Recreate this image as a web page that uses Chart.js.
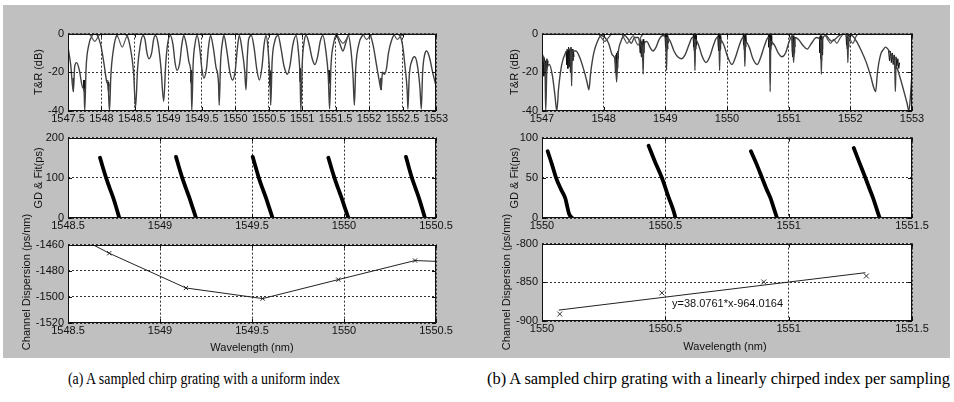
<!DOCTYPE html>
<html><head><meta charset="utf-8">
<script src="https://cdn.jsdelivr.net/npm/chart.js@4.4.1/dist/chart.umd.min.js"></script>
<style>
html,body{margin:0;padding:0;background:#fff}
body{width:954px;height:402px;position:relative;overflow:hidden;font-family:"Liberation Sans",Arial,sans-serif;color:#111}
#bg{position:absolute;left:3px;top:5px;width:947px;height:353px;background:#c0c0c0}
canvas{position:absolute}
.yt{position:absolute;font-size:11px;white-space:nowrap;transform:translate(-50%,-50%) rotate(-90deg)}
.xt{position:absolute;font-size:11px;white-space:nowrap;transform:translate(-50%,-50%)}
.ann{position:absolute;font-size:11px;white-space:nowrap;transform:translate(0,-50%)}
.cap{position:absolute;font-family:"Liberation Serif","Times New Roman",serif;font-size:16px;white-space:nowrap;transform-origin:0 50%;color:#000}
</style></head><body>
<div id="bg"></div>
<canvas id="tl"></canvas><canvas id="ml"></canvas><canvas id="bl"></canvas>
<canvas id="tr"></canvas><canvas id="mr"></canvas><canvas id="br"></canvas>
<div class="yt" style="left:38px;top:72px">T&amp;R (dB)</div>
<div class="yt" style="left:38px;top:178px">GD &amp; Fit(ps)</div>
<div class="yt" style="left:26px;top:282px">Channel Dispersion (ps/nm)</div>
<div class="xt" style="left:252px;top:347px">Wavelength (nm)</div>
<div class="yt" style="left:514px;top:72px">T&amp;R (dB)</div>
<div class="yt" style="left:514px;top:178px">GD &amp; Fit(ps)</div>
<div class="yt" style="left:506px;top:282px">Channel Dispersion (ps/nm)</div>
<div class="xt" style="left:725px;top:346px">Wavelength (nm)</div>
<div class="ann" style="left:672px;top:303px">y=38.0761*x-964.0164</div>
<div class="cap" data-w="272" style="left:68px;top:370px">(a) A sampled chirp grating with a uniform index</div>
<div class="cap" data-w="463" style="left:487px;top:370px">(b) A sampled chirp grating with a linearly chirped index per sampling</div>
<script>
// ---------- tick labels ----------
const tlTicksX=[1547.5,1548,1548.5,1549,1549.5,1550,1550.5,1551,1551.5,1552,1552.5,1553];
const trTicksX=[1547,1548,1549,1550,1551,1552,1553];
const trTicksY=[-40,-20,0];
const aTicksX=[1548.5,1549,1549.5,1550,1550.5];
const bTicksX=[1550,1550.5,1551,1551.5];
const gdATicksY=[0,100,200];
const gdBTicksY=[0,50,100];
const cdATicksY=[-1520,-1500,-1480,-1460];
const cdBTicksY=[-900,-850,-800];

// ---------- (a) T&R spectrum: [wavelength nm, dB] ----------
const tlR=[[1547.50,-7],[1547.54,-16],[1547.58,-30],[1547.60,-17],[1547.63,-15],[1547.67,-19],[1547.72,-28],[1547.74,-29],[1547.75,-40],[1547.77,-18],[1547.81,-6],[1547.86,-1],[1547.90,0],[1547.94,-1],[1547.99,-6],[1548.04,-16],[1548.08,-25],[1548.10,-27],[1548.12,-40],[1548.14,-22],[1548.18,-8],[1548.23,-1],[1548.31,0],[1548.38,-1],[1548.43,-7],[1548.48,-20],[1548.51,-38],[1548.54,-18],[1548.58,-6],[1548.62,-1],[1548.65,-3],[1548.68,-10],[1548.71,-13],[1548.75,-10],[1548.78,-3],[1548.81,-1],[1548.85,-6],[1548.89,-18],[1548.93,-35],[1548.96,-16],[1548.99,-5],[1549.03,-1],[1549.07,-6],[1549.10,-15],[1549.13,-19],[1549.17,-15],[1549.20,-6],[1549.23,-1],[1549.27,-6],[1549.31,-15],[1549.34,-22],[1549.35,-40],[1549.37,-16],[1549.40,-5],[1549.43,-1],[1549.47,-8],[1549.50,-18],[1549.53,-23],[1549.57,-18],[1549.60,-7],[1549.63,-1],[1549.67,-7],[1549.71,-17],[1549.75,-26],[1549.76,-37],[1549.78,-15],[1549.81,-4],[1549.83,-1],[1549.87,-8],[1549.92,-20],[1549.96,-24],[1550.00,-19],[1550.03,-8],[1550.06,-1],[1550.10,-8],[1550.14,-19],[1550.16,-29],[1550.18,-12],[1550.20,-3],[1550.24,-1],[1550.28,-7],[1550.32,-18],[1550.36,-24],[1550.40,-17],[1550.43,-6],[1550.46,-1],[1550.49,-8],[1550.52,-25],[1550.53,-37],[1550.55,-15],[1550.59,-4],[1550.64,-1],[1550.68,-7],[1550.73,-17],[1550.78,-21],[1550.82,-16],[1550.86,-6],[1550.91,-1],[1550.94,-8],[1550.97,-24],[1550.98,-40],[1551.00,-16],[1551.03,-4],[1551.06,-1],[1551.10,-5],[1551.15,-13],[1551.19,-16],[1551.23,-12],[1551.27,-4],[1551.31,-1],[1551.35,-8],[1551.39,-22],[1551.41,-39],[1551.43,-17],[1551.47,-5],[1551.51,-1],[1551.56,-5],[1551.61,-9],[1551.65,-5],[1551.69,-1],[1551.73,-9],[1551.76,-22],[1551.78,-37],[1551.80,-18],[1551.85,-5],[1551.90,-1],[1551.96,0],[1552.02,-1],[1552.06,-6],[1552.11,-16],[1552.15,-24],[1552.18,-29],[1552.20,-20],[1552.23,-21],[1552.26,-18],[1552.29,-10],[1552.34,-3],[1552.40,0],[1552.46,-1],[1552.50,-6],[1552.54,-18],[1552.57,-30],[1552.58,-39],[1552.60,-22],[1552.64,-14],[1552.68,-12],[1552.72,-16],[1552.76,-28],[1552.78,-39],[1552.80,-20],[1552.83,-11],[1552.86,-9],[1552.90,-12],[1552.95,-20],[1553.00,-27]];
const tlT=[[1547.50,0],[1547.80,0],[1547.84,-1],[1547.90,-4],[1547.96,-1],[1548.00,0],[1548.20,0],[1548.25,-2],[1548.31,-7],[1548.37,-2],[1548.42,0],[1551.50,0],[1551.56,-3],[1551.61,-5],[1551.66,-3],[1551.72,0],[1551.90,0],[1551.96,-3],[1552.02,-1],[1552.08,0],[1552.36,0],[1552.42,-3],[1552.48,-1],[1552.55,0],[1553.00,0]];
// dense ripple bursts near the nulls of (a)
const tlBurst=[
 [[1547.575,-23],[1547.578,-30],[1547.581,-23],[1547.584,-29]],
 [[1547.735,-24],[1547.738,-29],[1547.741,-24],[1547.744,-30]],
 [[1548.095,-24],[1548.100,-29],[1548.105,-25],[1548.110,-30],[1548.115,-26]],
 [[1549.335,-19],[1549.338,-25],[1549.341,-19],[1549.344,-26]],
 [[1550.515,-19],[1550.518,-27],[1550.521,-20],[1550.524,-26]],
 [[1550.965,-18],[1550.968,-25],[1550.971,-18],[1550.974,-24]],
 [[1551.395,-19],[1551.398,-26],[1551.401,-19],[1551.404,-25]],
 [[1552.175,-23],[1552.178,-29],[1552.181,-23],[1552.184,-28]]];

// ---------- (b) T&R spectrum ----------
const trR=[[1547.00,-10],[1547.03,-14],[1547.05,-20],[1547.06,-40],[1547.08,-18],[1547.12,-16],[1547.17,-22],[1547.21,-32],[1547.24,-40],[1547.27,-28],[1547.32,-16],[1547.38,-10],[1547.44,-8],[1547.47,-8],[1547.48,-27],[1547.49,-9],[1547.55,-9],[1547.62,-13],[1547.68,-19],[1547.73,-25],[1547.76,-29],[1547.79,-20],[1547.84,-10],[1547.90,-4],[1547.96,-1],[1548.02,-2],[1548.08,-5],[1548.14,-11],[1548.19,-14],[1548.21,-25],[1548.23,-12],[1548.28,-4],[1548.34,-1],[1548.40,-3],[1548.45,-5],[1548.50,-2],[1548.56,-2],[1548.60,-6],[1548.63,-8],[1548.64,-21],[1548.65,-6],[1548.70,-4],[1548.75,-7],[1548.80,-9],[1548.85,-7],[1548.90,-3],[1548.96,-1],[1549.01,-2],[1549.02,-19],[1549.03,-2],[1549.08,-4],[1549.14,-9],[1549.20,-12],[1549.26,-13],[1549.32,-11],[1549.38,-6],[1549.44,-2],[1549.47,-3],[1549.48,-19],[1549.49,-3],[1549.54,-6],[1549.60,-12],[1549.66,-15],[1549.72,-12],[1549.78,-6],[1549.84,-2],[1549.87,-3],[1549.88,-19],[1549.89,-3],[1549.95,-6],[1550.01,-12],[1550.08,-16],[1550.14,-12],[1550.20,-6],[1550.26,-2],[1550.28,-4],[1550.29,-17],[1550.30,-4],[1550.36,-7],[1550.42,-13],[1550.49,-16],[1550.55,-12],[1550.61,-6],[1550.67,-2],[1550.69,-4],[1550.70,-30],[1550.71,-4],[1550.77,-6],[1550.83,-10],[1550.89,-12],[1550.95,-10],[1551.01,-4],[1551.06,-1],[1551.08,-15],[1551.10,-2],[1551.16,-3],[1551.23,-6],[1551.30,-8],[1551.37,-5],[1551.45,-2],[1551.52,-4],[1551.53,-21],[1551.54,-4],[1551.60,-1],[1551.66,-3],[1551.70,-4],[1551.75,-3],[1551.82,-1],[1551.90,0],[1551.95,-3],[1551.96,-15],[1551.97,-2],[1552.02,-1],[1552.10,-4],[1552.18,-9],[1552.26,-15],[1552.33,-22],[1552.38,-28],[1552.41,-30],[1552.44,-20],[1552.49,-11],[1552.54,-8],[1552.57,-7],[1552.61,-8],[1552.67,-11],[1552.72,-16],[1552.73,-30],[1552.74,-17],[1552.80,-22],[1552.87,-30],[1552.92,-36],[1552.95,-40],[1552.98,-30],[1553.00,-20]];
const trT=[[1547.00,0],[1547.90,0],[1547.96,-2],[1548.02,-4],[1548.08,-2],[1548.14,0],[1548.28,0],[1548.34,-3],[1548.38,-5],[1548.43,-3],[1548.48,-1],[1548.52,-4],[1548.56,-6],[1548.60,-2],[1548.66,0],[1551.58,0],[1551.63,-3],[1551.68,-5],[1551.73,-3],[1551.78,-5],[1551.84,-2],[1551.90,0],[1551.98,-2],[1552.04,-5],[1552.10,-1],[1552.16,0],[1553.00,0]];
// dense ripple bursts of (b)
const trBurst=[
 [[1547.00,-11],[1547.01,-20],[1547.02,-12],[1547.03,-22],[1547.04,-13],[1547.05,-21],[1547.06,-14],[1547.07,-19],[1547.08,-13],[1547.09,-17],[1547.10,-14]],
 [[1547.39,-9],[1547.40,-16],[1547.41,-8],[1547.42,-18],[1547.43,-7],[1547.44,-17],[1547.45,-8],[1547.46,-20],[1547.47,-7],[1547.48,-16],[1547.49,-8],[1547.50,-14],[1547.51,-9],[1547.52,-12]],
 [[1548.18,-12],[1548.19,-20],[1548.20,-11],[1548.205,-22],[1548.21,-10],[1548.22,-18],[1548.23,-9],[1548.24,-13]],
 [[1548.58,-4],[1548.59,-10],[1548.60,-3],[1548.61,-12],[1548.62,-4],[1548.63,-14],[1548.64,-3],[1548.65,-10],[1548.66,-4]],
 [[1548.995,-1],[1549.000,-7],[1549.006,-1],[1549.012,-9],[1549.018,0],[1549.024,-9],[1549.030,-1],[1549.036,-8],[1549.042,-1],[1549.050,-5]],
 [[1549.450,-1],[1549.456,-7],[1549.462,0],[1549.468,-9],[1549.474,-1],[1549.480,-9],[1549.486,0],[1549.492,-8],[1549.498,-1],[1549.505,-6]],
 [[1549.850,-1],[1549.856,-6],[1549.862,0],[1549.868,-9],[1549.874,-1],[1549.880,-9],[1549.886,0],[1549.892,-8],[1549.898,-1],[1549.905,-5]],
 [[1550.260,-1],[1550.266,-6],[1550.272,0],[1550.278,-8],[1550.284,-1],[1550.290,-9],[1550.296,0],[1550.302,-7],[1550.308,-1],[1550.315,-5]],
 [[1550.670,-1],[1550.676,-7],[1550.682,0],[1550.688,-9],[1550.694,-1],[1550.700,-9],[1550.706,0],[1550.712,-8],[1550.718,-1],[1550.725,-6]],
 [[1551.050,-2],[1551.056,-9],[1551.062,-1],[1551.068,-12],[1551.074,-2],[1551.080,-11],[1551.086,-1],[1551.092,-10],[1551.098,-2],[1551.105,-7]],
 [[1551.500,-2],[1551.506,-10],[1551.512,-1],[1551.518,-13],[1551.524,-2],[1551.530,-14],[1551.536,-1],[1551.542,-11],[1551.548,-2],[1551.555,-8]],
 [[1551.930,-1],[1551.936,-6],[1551.942,0],[1551.948,-8],[1551.954,-1],[1551.960,-8],[1551.966,0],[1551.972,-7],[1551.978,-1],[1551.985,-4]],
 [[1552.620,-9],[1552.635,-14],[1552.650,-9],[1552.665,-15],[1552.680,-10],[1552.695,-16],[1552.710,-11],[1552.725,-18],[1552.740,-12],[1552.755,-17],[1552.770,-13],[1552.785,-18],[1552.800,-15]]];

// ---------- group delay segments: [wavelength nm, ps] ----------
const gdA=[
 [[1548.674,150],[1548.690,125],[1548.707,100],[1548.726,75],[1548.746,50],[1548.763,25],[1548.779,0]],
 [[1549.087,152],[1549.104,125],[1549.121,100],[1549.140,75],[1549.160,50],[1549.178,25],[1549.196,0]],
 [[1549.504,152],[1549.521,125],[1549.537,100],[1549.556,75],[1549.576,50],[1549.594,25],[1549.612,0]],
 [[1549.915,150],[1549.931,125],[1549.948,100],[1549.967,75],[1549.987,50],[1550.005,25],[1550.024,0]],
 [[1550.337,152],[1550.353,125],[1550.369,100],[1550.388,75],[1550.407,50],[1550.424,25],[1550.440,0]]];
const gdB=[
 [[1550.023,83],[1550.040,67],[1550.057,50],[1550.078,35],[1550.095,24],[1550.104,12],[1550.110,5],[1550.122,0]],
 [[1550.432,90],[1550.458,70],[1550.486,50],[1550.503,35],[1550.513,26],[1550.530,12],[1550.537,5],[1550.541,0]],
 [[1550.847,83],[1550.870,67],[1550.892,50],[1550.910,36],[1550.926,25],[1550.940,12],[1550.953,0]],
 [[1551.264,87],[1551.288,68],[1551.311,50],[1551.327,37],[1551.342,25],[1551.356,12],[1551.369,0]]];

// ---------- channel dispersion ----------
const cdAX=[1548.307,1548.724,1549.141,1549.558,1549.969,1550.386,1550.800];
const cdAY=[-1436,-1466.6,-1493.2,-1501.3,-1486.8,-1472.2,-1474.5];
const cdBX=[1550.072,1550.486,1550.899,1551.315];
const cdBY=[-891,-863.7,-849.6,-841.9];
const fitBX=[1550.068,1551.311];
const fitBY=[-885.9,-837.6];

// ---------- helpers ----------
const FONT='"Liberation Sans", Arial, sans-serif';
Chart.defaults.font.family=FONT;
const PL=60,PT=10,PR=26,PB=22;
const pairs=a=>a.map(p=>({x:p[0],y:p[1]}));
const xy=(xs,ys)=>xs.map((x,i)=>({x:x,y:ys[i]}));

const frame={id:'frame',
 beforeDraw(c){const a=c.chartArea,ctx=c.ctx;ctx.save();ctx.fillStyle='#fff';ctx.fillRect(a.left,a.top,a.right-a.left,a.bottom-a.top);ctx.restore();},
 afterDraw(c){const a=c.chartArea,ctx=c.ctx,sx=c.scales.x,sy=c.scales.y;ctx.save();ctx.strokeStyle='#111';ctx.lineWidth=1;
  ctx.strokeRect(Math.round(a.left)+0.5,Math.round(a.top)+0.5,Math.round(a.right-a.left)-1,Math.round(a.bottom-a.top)-1);
  ctx.beginPath();
  sx.ticks.forEach(t=>{const p=Math.round(sx.getPixelForValue(t.value))+0.5;ctx.moveTo(p,a.bottom);ctx.lineTo(p,a.bottom-4);ctx.moveTo(p,a.top);ctx.lineTo(p,a.top+4);});
  sy.ticks.forEach(t=>{const p=Math.round(sy.getPixelForValue(t.value))+0.5;ctx.moveTo(a.left,p);ctx.lineTo(a.left+4,p);ctx.moveTo(a.right,p);ctx.lineTo(a.right-4,p);});
  ctx.stroke();ctx.restore();}};

function axis(min,max,ticks,isX){
 return {type:'linear',min:min,max:max,
  afterBuildTicks:s=>{s.ticks=ticks.map(v=>({value:v}));},
  afterFit:s=>{if(isX)s.height=PB;else s.width=PL;},
  ticks:{autoSkip:false,maxRotation:0,minRotation:0,padding:isX?1:4,color:'#111',font:{size:11,family:FONT},callback:v=>String(v)},
  grid:{color:'#333',lineWidth:1,drawTicks:false},
  border:{display:false,dash:[2,2]}};
}
function mk(id,area,xa,ya,datasets){
 const cv=document.getElementById(id);
 cv.width=area[2]-area[0]+PL+PR;cv.height=area[3]-area[1]+PT+PB;
 cv.style.left=(area[0]-PL)+'px';cv.style.top=(area[1]-PT)+'px';
 cv.style.width=cv.width+'px';cv.style.height=cv.height+'px';
 return new Chart(cv,{type:'line',data:{datasets:datasets},
  options:{responsive:false,animation:false,devicePixelRatio:1,
   layout:{padding:{left:0,top:PT,right:PR,bottom:0}},
   plugins:{legend:{display:false},tooltip:{enabled:false}},
   scales:{x:xa,y:ya}},plugins:[frame]});
}
const specLine=(d,col,w)=>({data:pairs(d),borderColor:col,borderWidth:w,pointRadius:0,cubicInterpolationMode:'monotone',fill:false});
const burst=d=>({data:pairs(d),borderColor:'#111',borderWidth:1,pointRadius:0,tension:0,fill:false});
const gdLine=d=>({data:pairs(d),borderColor:'#000',borderWidth:3.8,pointRadius:0,cubicInterpolationMode:'monotone',fill:false,borderCapStyle:'round'});

mk('tl',[68,33,436,111],axis(1547.5,1553,tlTicksX,true),axis(-40,0,trTicksY,false),
 [specLine(tlT,'#555',1.2),specLine(tlR,'#404040',1.4)].concat(tlBurst.map(burst)));
mk('tr',[542,33,912,111],axis(1547,1553,trTicksX,true),axis(-40,0,trTicksY,false),
 [specLine(trT,'#555',1.2),specLine(trR,'#404040',1.4)].concat(trBurst.map(burst)));
mk('ml',[68,137,436,218],axis(1548.5,1550.5,aTicksX,true),axis(0,200,gdATicksY,false),gdA.map(gdLine));
mk('mr',[542,137,912,218],axis(1550,1551.5,bTicksX,true),axis(0,100,gdBTicksY,false),gdB.map(gdLine));
mk('bl',[68,244,436,323],axis(1548.5,1550.5,aTicksX,true),axis(-1520,-1460,cdATicksY,false),
 [{data:xy(cdAX,cdAY),borderColor:'#222',borderWidth:1,pointStyle:'crossRot',pointRadius:3,pointBorderWidth:1,pointBorderColor:'#222',tension:0,fill:false}]);
mk('br',[542,243,912,321],axis(1550,1551.5,bTicksX,true),axis(-900,-800,cdBTicksY,false),
 [{data:xy(fitBX,fitBY),borderColor:'#222',borderWidth:1,pointRadius:0,tension:0,fill:false},
  {data:xy(cdBX,cdBY),showLine:false,borderColor:'#333',pointStyle:'crossRot',pointRadius:3.5,pointBorderWidth:1,pointBorderColor:'#333'}]);

document.querySelectorAll('.cap').forEach(el=>{const w=+el.dataset.w;const r=el.getBoundingClientRect().width;el.style.transform='scaleX('+(w/r)+')';});
</script>
</body></html>
